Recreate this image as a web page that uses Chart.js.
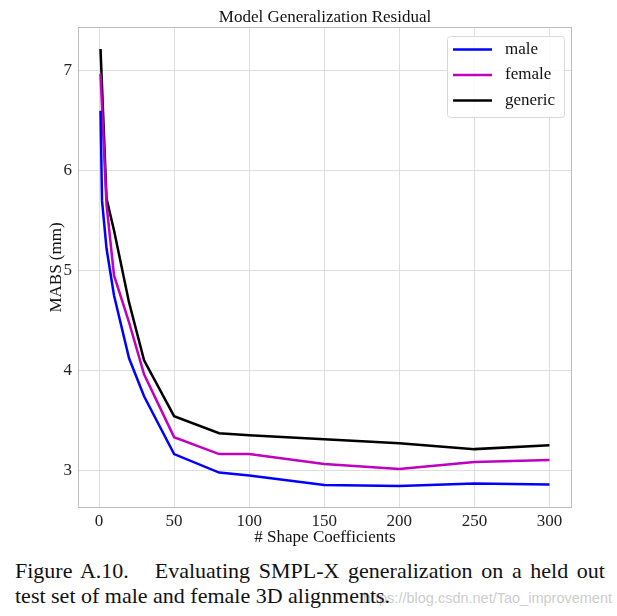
<!DOCTYPE html>
<html>
<head>
<meta charset="utf-8">
<script src="https://cdn.jsdelivr.net/npm/chart.js@4/dist/chart.umd.min.js"></script>
<style>
  html, body { margin: 0; padding: 0; background: #fff; }
  #wrap { position: relative; width: 617px; height: 616px; overflow: hidden; }
  #box { position: absolute; left: 0; top: 0; width: 617px; height: 555px; }
  .cap { position: absolute; font-family: "Liberation Serif", "DejaVu Serif", serif; font-size: 22px; line-height: 22px; color: #111; white-space: nowrap; }
  #cap1 { left: 15px; width: 590px; top: 560px; text-align: justify; text-align-last: justify; white-space: normal; }
  #cap2 { left: 15px; top: 585px; }
  #mark { position: absolute; right: 5px; top: 591px; font-family: "Liberation Sans", Arial, sans-serif; font-size: 14.5px; line-height: 15px; color: #cdcdcd; }
</style>
</head>
<body>
<div id="wrap">
  <div id="box"><canvas id="chart"></canvas></div>
  <div id="mark">https://blog.csdn.net/Tao_improvement</div>
  <div class="cap" id="cap1">Figure A.10.&nbsp;&nbsp; Evaluating SMPL-X generalization on a held out</div>
  <div class="cap" id="cap2">test set of male and female 3D alignments.</div>
</div>
<script>
// DATOS
const shapeCoeffs = [1, 2, 5, 10, 20, 30, 50, 80, 100, 150, 200, 250, 300];
const maleMabs = [6.60, 5.70, 5.22, 4.75, 4.12, 3.74, 3.16, 2.975, 2.945, 2.85, 2.84, 2.865, 2.855];
const femaleMabs = [6.97, null, 5.66, 4.95, 4.48, 3.96, 3.33, 3.16, 3.16, 3.06, 3.01, 3.08, 3.10];
const genericMabs = [7.22, null, 5.72, 5.40, 4.68, 4.10, 3.54, 3.37, 3.35, 3.31, 3.27, 3.21, 3.25];
const seriesNames = ["male", "female", "generic"];
const xTicks = [0, 50, 100, 150, 200, 250, 300];
const yTicks = [3, 4, 5, 6, 7];

const SERIF = "'Liberation Serif', 'DejaVu Serif', serif";
const canvasChart = document.getElementById("chart");

function toPoints(values) {
  return shapeCoeffs.map((x, i) => ({ x: x, y: values[i] }));
}

function makeDataset(label, values, color) {
  return {
    label: label,
    data: toPoints(values),
    borderColor: color,
    backgroundColor: color,
    borderWidth: 2.5,
    pointRadius: 0,
    tension: 0,
    spanGaps: true,
  };
}

// marco gris alrededor del area
const frame = {
  id: "frame",
  afterDatasetsDraw(chart) {
    const { ctx, chartArea: a } = chart;
    ctx.save();
    ctx.strokeStyle = "#bdbdbd";
    ctx.lineWidth = 1;
    ctx.strokeRect(a.left + 0.5, a.top + 0.5, a.right - a.left - 1, a.bottom - a.top - 1);
    ctx.restore();
  },
};

// leyenda dentro del grafico (arriba a la derecha)
const insideLegend = {
  id: "insideLegend",
  afterDraw(chart) {
    const { ctx } = chart;
    const x = 447.5, y = 36.5, w = 117, h = 81;
    ctx.save();
    ctx.fillStyle = "rgba(255,255,255,0.85)";
    ctx.strokeStyle = "#d9d9d9";
    ctx.lineWidth = 1;
    ctx.beginPath();
    ctx.roundRect(x, y, w, h, 3);
    ctx.fill();
    ctx.stroke();
    ctx.font = "17px " + SERIF;
    ctx.textBaseline = "middle";
    chart.data.datasets.forEach((ds, i) => {
      const rowY = 49.5 + i * 25.5;
      ctx.strokeStyle = ds.borderColor;
      ctx.lineWidth = 2.5;
      ctx.beginPath();
      ctx.moveTo(453, rowY);
      ctx.lineTo(492, rowY);
      ctx.stroke();
      ctx.fillStyle = "#111";
      ctx.fillText(ds.label, 505, rowY);
    });
    ctx.restore();
  },
};

const config = {
  type: "line",
  data: {
    datasets: [
      makeDataset(seriesNames[0], maleMabs, "#0000ff"),
      makeDataset(seriesNames[1], femaleMabs, "#bf00bf"),
      makeDataset(seriesNames[2], genericMabs, "#000000"),
    ],
  },
  options: {
    responsive: true,
    maintainAspectRatio: false,
    animation: false,
    layout: { padding: { left: 0, right: 45, top: 0, bottom: 0 } },
    plugins: {
      legend: { display: false },
      tooltip: { enabled: false },
      title: {
        display: true,
        text: "Model Generalization Residual",
        fullSize: false,
        color: "#111",
        font: { family: SERIF, size: 17, weight: "normal", lineHeight: 1 },
        padding: { top: 9, bottom: 1 },
      },
    },
    scales: {
      x: {
        type: "linear",
        min: -14,
        max: 315,
        afterBuildTicks: (s) => { s.ticks = xTicks.map((v) => ({ value: v })); },
        afterFit: (s) => { s.height = 47; },
        grid: { color: "#dedede", lineWidth: 1, drawTicks: false },
        border: { display: false },
        ticks: { color: "#222", padding: 3, font: { family: SERIF, size: 17 } },
        title: {
          display: true,
          text: "# Shape Coefficients",
          color: "#111",
          font: { family: SERIF, size: 17 },
          padding: { top: 0, bottom: 7 },
        },
      },
      y: {
        type: "linear",
        min: 2.62,
        max: 7.44,
        afterBuildTicks: (s) => { s.ticks = yTicks.map((v) => ({ value: v })); },
        afterFit: (s) => { s.width = 78; },
        grid: { color: "#dedede", lineWidth: 1, drawTicks: false },
        border: { display: false },
        ticks: { color: "#222", padding: 6, font: { family: SERIF, size: 17 } },
        title: {
          display: true,
          text: "MABS (mm)",
          color: "#111",
          font: { family: SERIF, size: 17 },
          padding: { top: 46, bottom: 0 },
        },
      },
    },
  },
  plugins: [frame, insideLegend],
};

new Chart(canvasChart, config);
</script>
</body>
</html>
